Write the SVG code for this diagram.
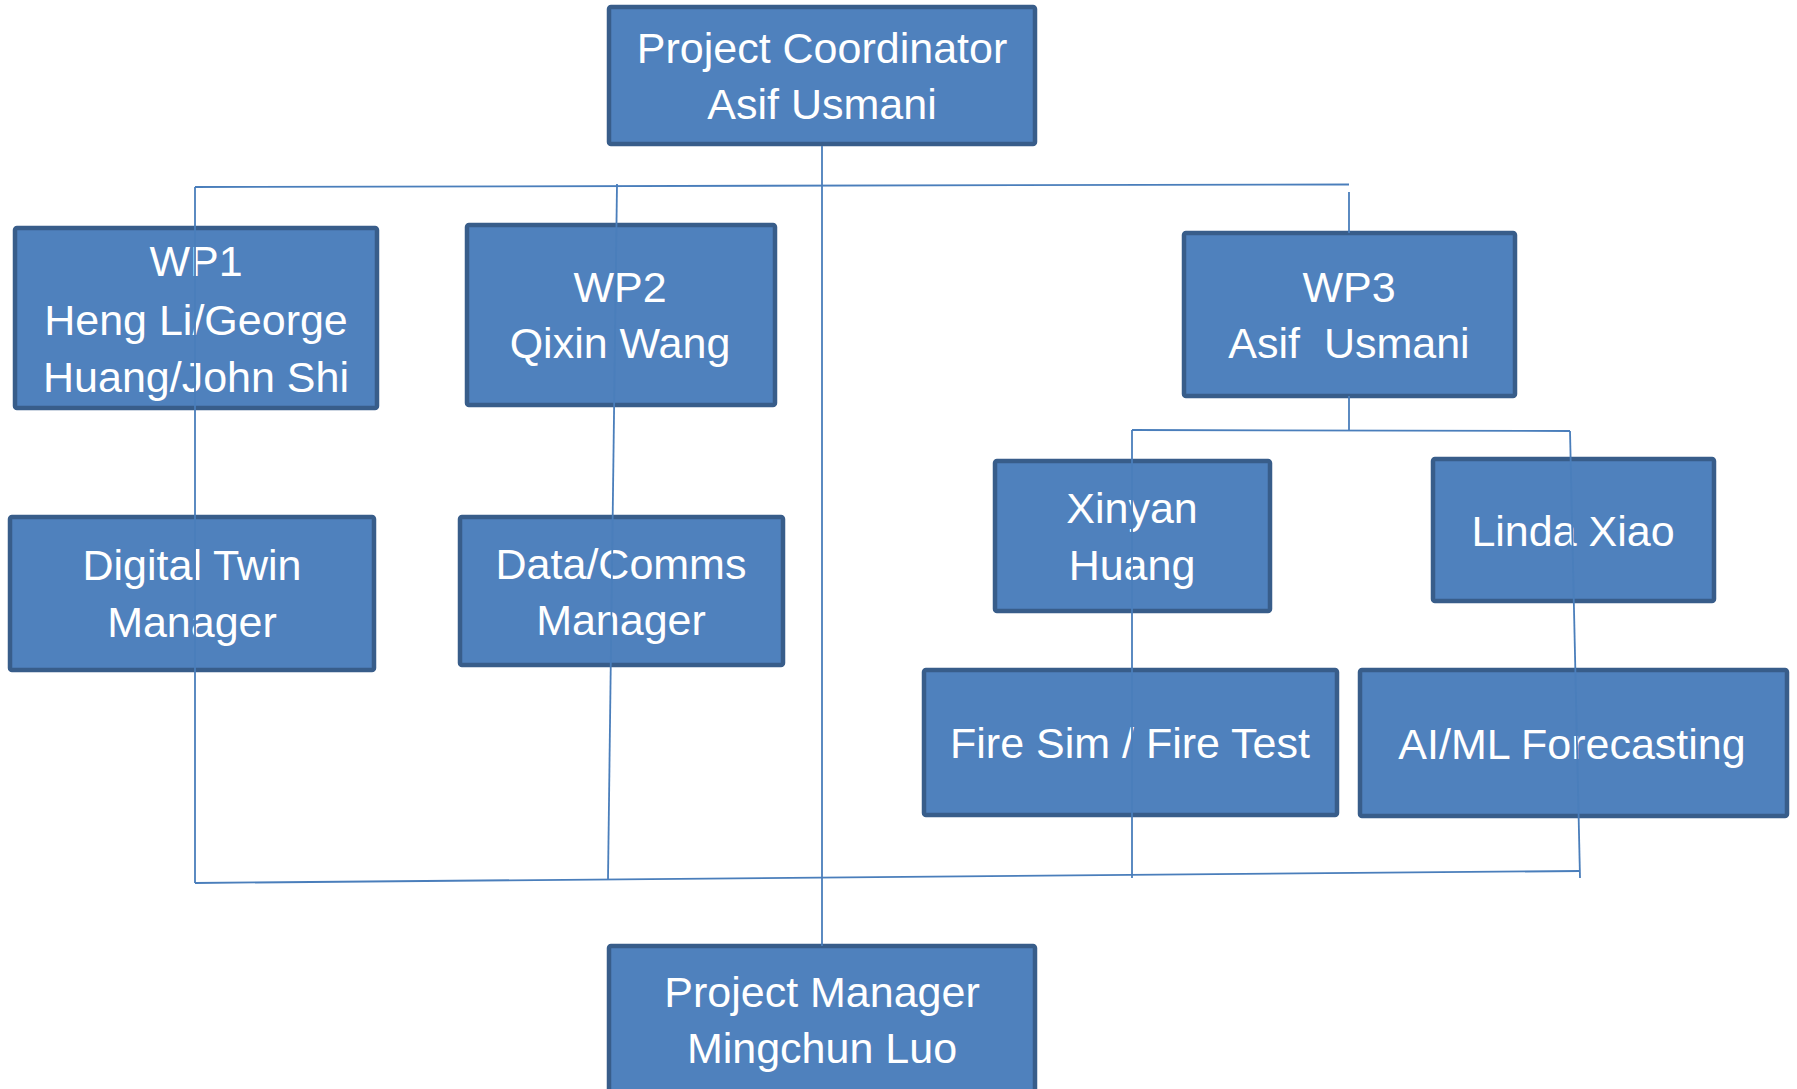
<svg xmlns="http://www.w3.org/2000/svg" width="1797" height="1089" viewBox="0 0 1797 1089">
<style>
.box{fill:#4f81bd;stroke:#385d8a;stroke-width:4.5}
.t{font-family:"Liberation Sans",Arial,sans-serif;font-size:43px;fill:#ffffff;text-anchor:middle;white-space:pre}
.c{fill:none;stroke:#4a7ebb;stroke-width:1.8}
</style>
<rect width="1797" height="1089" fill="#ffffff"/>
<g id="pc"><rect class="box" x="609" y="7" width="426" height="137" rx="2"/><text class="t" x="822" y="63">Project Coordinator</text><text class="t" x="822" y="119">Asif Usmani</text></g>
<g id="wp1"><rect class="box" x="15" y="228" width="362" height="180" rx="2"/><text class="t" x="196" y="276">WP1</text><text class="t" x="196" y="335">Heng Li/George</text><text class="t" x="196" y="392">Huang/John Shi</text></g>
<g id="wp2"><rect class="box" x="467" y="225" width="308" height="180" rx="2"/><text class="t" x="620" y="302">WP2</text><text class="t" x="620" y="358">Qixin Wang</text></g>
<g id="wp3"><rect class="box" x="1184" y="233" width="331" height="163" rx="2"/><text class="t" x="1349" y="302">WP3</text><text class="t" x="1349" y="358" xml:space="preserve">Asif  Usmani</text></g>
<g id="dt"><rect class="box" x="10" y="517" width="364" height="153" rx="2"/><text class="t" x="192" y="580">Digital Twin</text><text class="t" x="192" y="637">Manager</text></g>
<g id="dc"><rect class="box" x="460" y="517" width="323" height="148" rx="2"/><text class="t" x="621" y="579">Data/Comms</text><text class="t" x="621" y="635">Manager</text></g>
<g id="xh"><rect class="box" x="995" y="461" width="275" height="150" rx="2"/><text class="t" x="1132" y="523">Xinyan</text><text class="t" x="1132" y="580">Huang</text></g>
<g id="lx"><rect class="box" x="1433" y="459" width="281" height="142" rx="2"/><text class="t" x="1573" y="546">Linda Xiao</text></g>
<g id="fs"><rect class="box" x="924" y="670" width="413" height="145" rx="2"/><text class="t" x="1130" y="758">Fire Sim / Fire Test</text></g>
<g id="ai"><rect class="box" x="1360" y="670" width="427" height="146" rx="2"/><text class="t" x="1572" y="759">AI/ML Forecasting</text></g>
<g id="pm"><rect class="box" x="609" y="946" width="426" height="160" rx="2"/><text class="t" x="822" y="1007">Project Manager</text><text class="t" x="822" y="1063">Mingchun Luo</text></g>
<g id="connectors">
<line class="c" x1="195" y1="187" x2="1349" y2="184.5"/>
<line class="c" x1="195" y1="187" x2="195" y2="883"/>
<line class="c" x1="617" y1="184" x2="608" y2="879"/>
<line class="c" x1="822" y1="146" x2="822" y2="946"/>
<line class="c" x1="1349" y1="192" x2="1349" y2="233"/>
<line class="c" x1="1349" y1="396" x2="1349" y2="430"/>
<line class="c" x1="1132" y1="430" x2="1570" y2="431"/>
<line class="c" x1="1132" y1="430" x2="1132" y2="878"/>
<line class="c" x1="1570" y1="431" x2="1580" y2="878"/>
<line class="c" x1="195" y1="883" x2="1580" y2="871"/>
</g>
</svg>
